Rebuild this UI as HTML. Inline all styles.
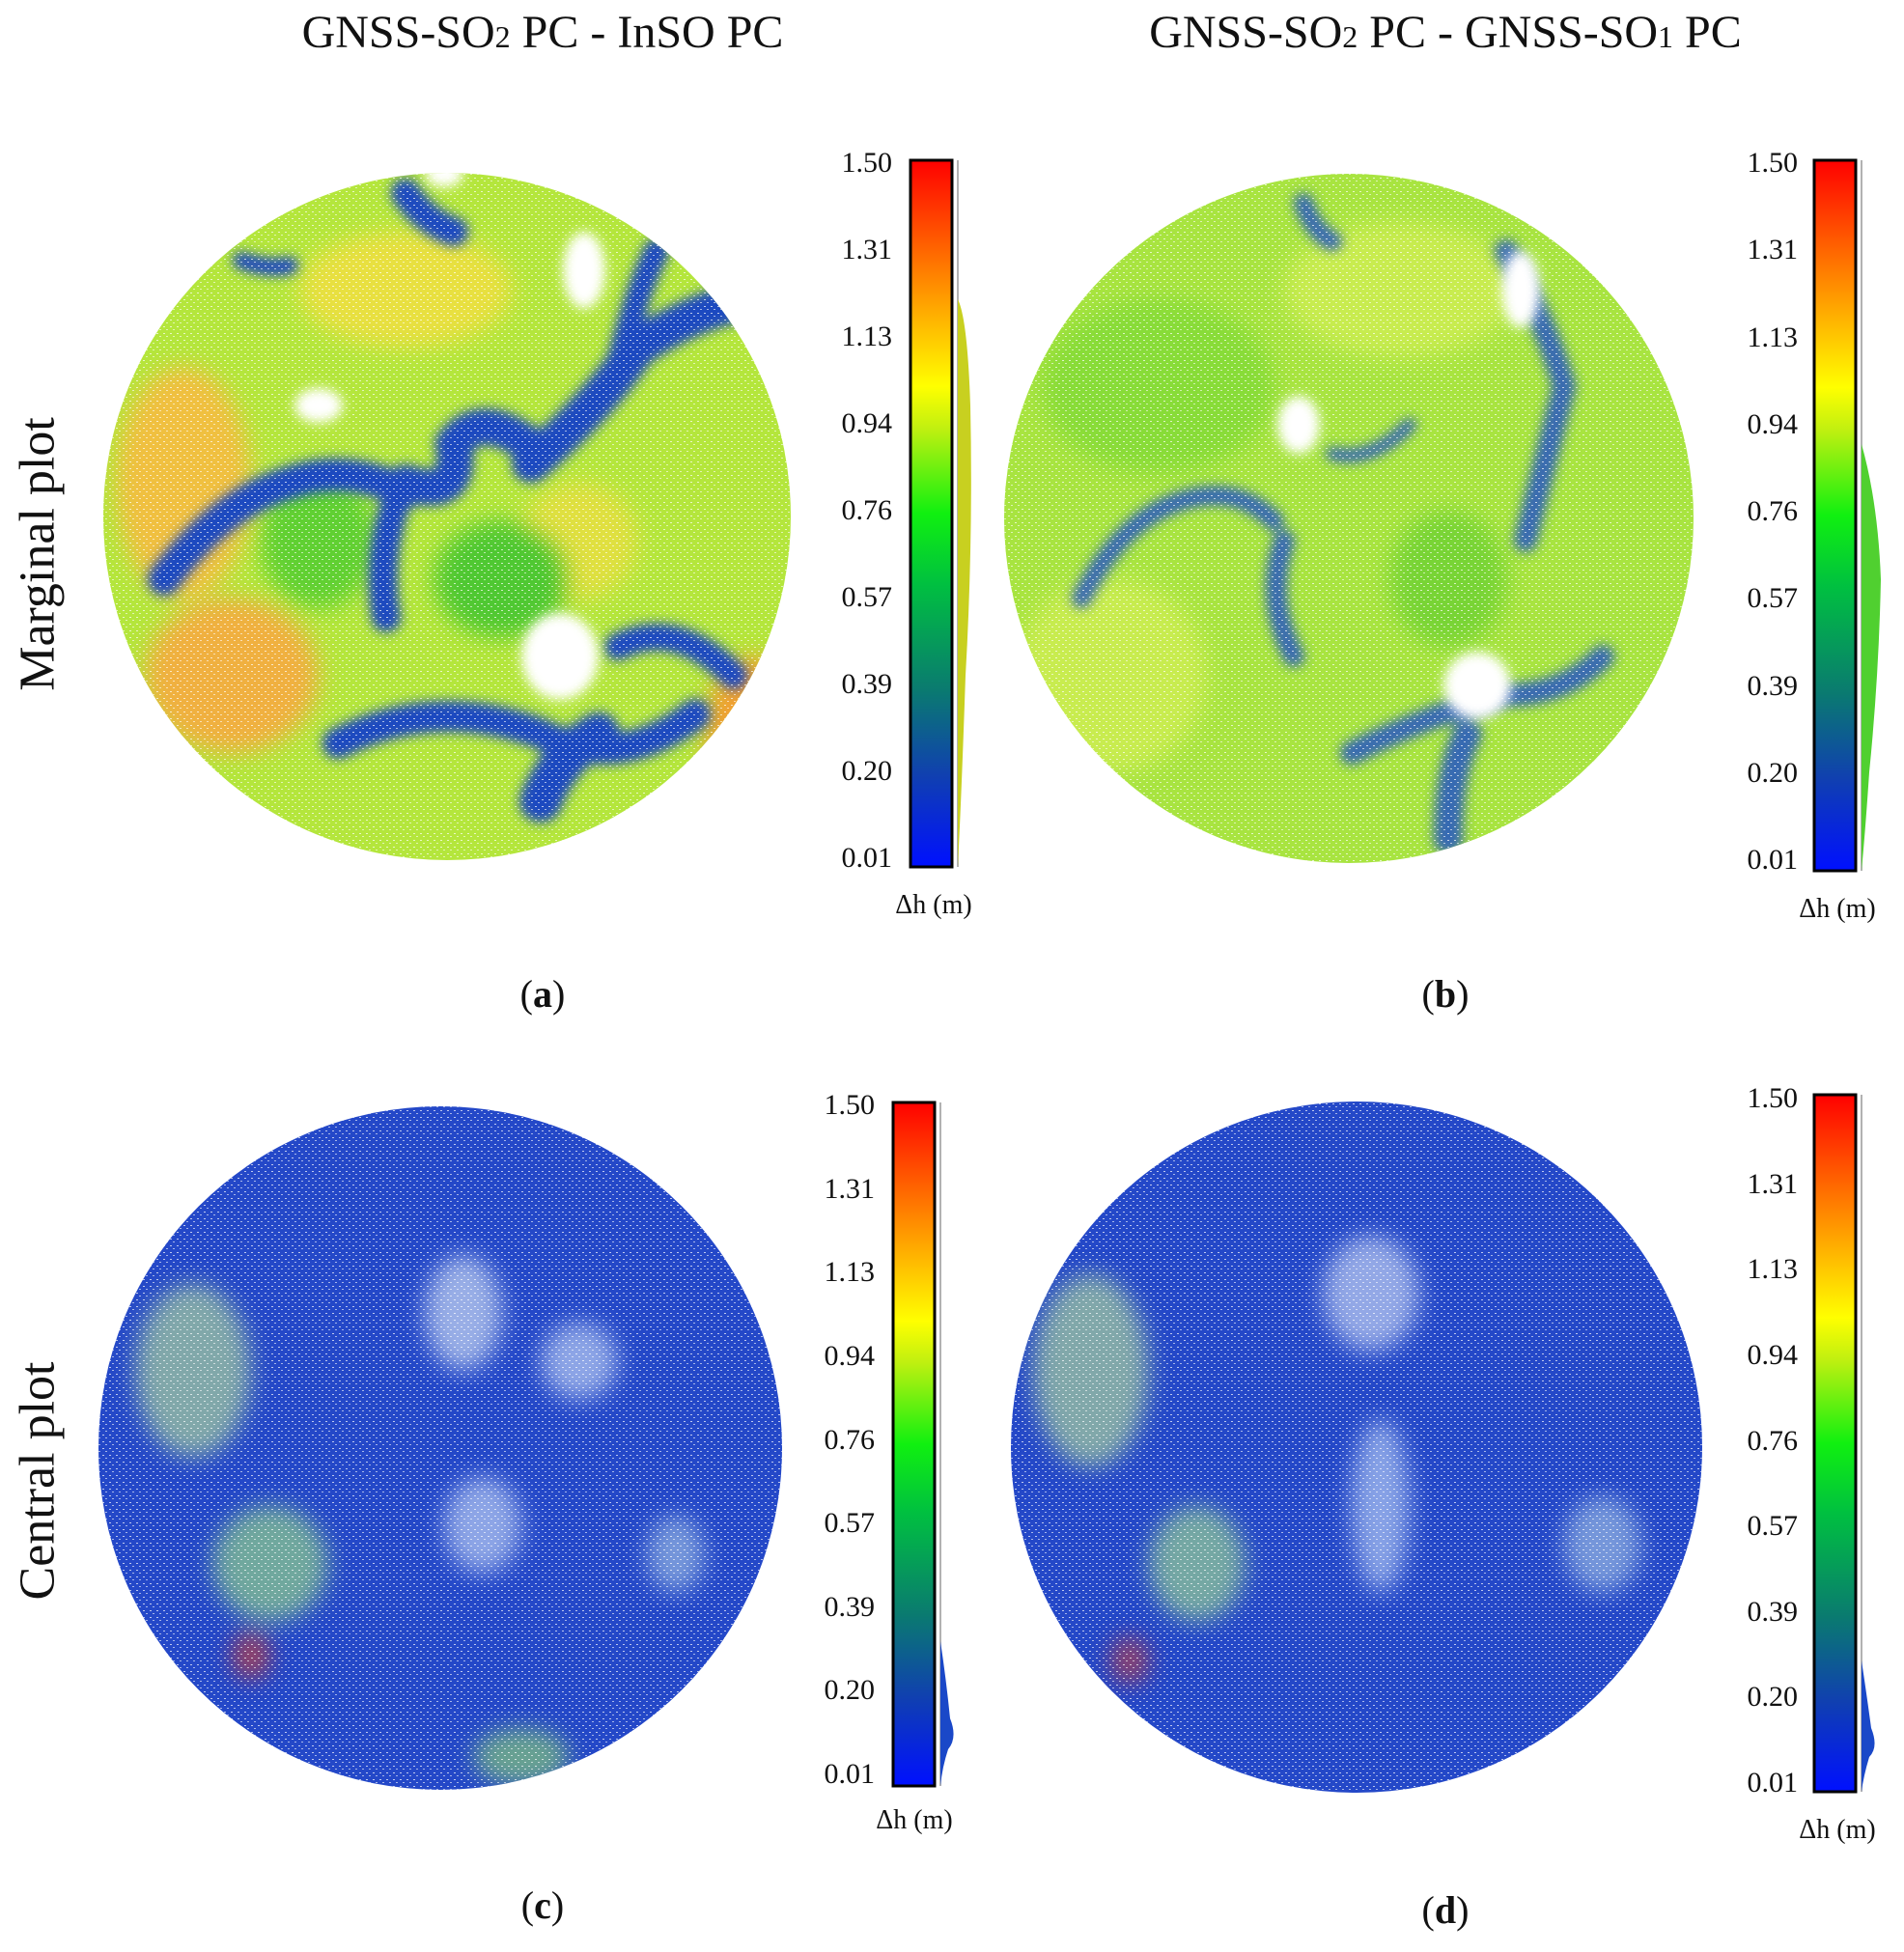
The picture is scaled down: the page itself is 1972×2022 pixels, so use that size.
<!DOCTYPE html>
<html><head><meta charset="utf-8"><style>
html,body{margin:0;padding:0;background:#fff}
body{width:1972px;height:2022px;position:relative;overflow:hidden;font-family:"Liberation Serif",serif;color:#111}
.t{position:absolute;white-space:nowrap}
</style></head><body>
<svg width="1972" height="2022" style="position:absolute;left:0;top:0">
<defs>
<linearGradient id="cb" x1="0" y1="1" x2="0" y2="0">
<stop offset="0" stop-color="#0010ff"/>
<stop offset="0.13" stop-color="#1040b0"/>
<stop offset="0.25" stop-color="#0a7a70"/>
<stop offset="0.4" stop-color="#00c040"/>
<stop offset="0.5" stop-color="#10f010"/>
<stop offset="0.62" stop-color="#c0f010"/>
<stop offset="0.68" stop-color="#ffff00"/>
<stop offset="0.8" stop-color="#ffa000"/>
<stop offset="1" stop-color="#ff0000"/>
</linearGradient>
<filter id="bl"><feGaussianBlur stdDeviation="12"/></filter>
<filter id="bl2"><feGaussianBlur stdDeviation="6"/></filter>
<clipPath id="ca"><circle cx="463" cy="535" r="356"/></clipPath>
<clipPath id="cbp"><circle cx="1397" cy="537" r="357"/></clipPath>
<clipPath id="cc"><circle cx="456" cy="1500" r="354"/></clipPath>
<clipPath id="cd"><circle cx="1405" cy="1499" r="358"/></clipPath>
<pattern id="spk" width="7" height="7" patternUnits="userSpaceOnUse"><rect x="1" y="2" width="2" height="1" fill="#fff" opacity="0.7"/><rect x="4" y="5" width="2" height="1" fill="#fff" opacity="0.6"/></pattern>
</defs>

<!-- (a) -->
<g clip-path="url(#ca)">
<rect x="100" y="170" width="730" height="730" fill="#b4e63c"/>
<g filter="url(#bl)">
<ellipse cx="190" cy="500" rx="70" ry="120" fill="#f0c040"/>
<ellipse cx="240" cy="700" rx="90" ry="80" fill="#f0b040"/>
<ellipse cx="420" cy="300" rx="110" ry="60" fill="#e8e040"/>
<ellipse cx="600" cy="560" rx="60" ry="60" fill="#e0e040"/>
<ellipse cx="780" cy="760" rx="50" ry="80" fill="#f0a030"/>
<ellipse cx="330" cy="560" rx="60" ry="70" fill="#60d030"/>
<ellipse cx="520" cy="600" rx="70" ry="60" fill="#50c830"/>
</g>
<g fill="none" stroke="#1e48c0" stroke-linecap="round" filter="url(#bl2)">
<path d="M170 600 Q230 520 300 500 Q360 480 420 510" stroke-width="34"/>
<path d="M420 500 Q480 520 470 460 Q500 420 560 470" stroke-width="38"/>
<path d="M410 520 Q390 580 400 640" stroke-width="30"/>
<path d="M550 480 Q620 420 660 360 Q720 320 780 310" stroke-width="40"/>
<path d="M640 380 Q660 300 680 260" stroke-width="26"/>
<path d="M350 770 Q450 720 560 760 Q640 800 720 740" stroke-width="32"/>
<path d="M560 830 Q580 780 620 760" stroke-width="44"/>
<path d="M640 670 Q700 640 760 700" stroke-width="28"/>
<path d="M420 200 Q440 230 470 240" stroke-width="30"/>
<path d="M250 270 Q280 280 300 275" stroke-width="18"/>
</g>
<g fill="#fff" filter="url(#bl2)">
<ellipse cx="330" cy="420" rx="25" ry="18"/><ellipse cx="605" cy="280" rx="22" ry="40"/>
<ellipse cx="580" cy="680" rx="40" ry="45"/><ellipse cx="460" cy="180" rx="20" ry="14"/>
</g>
<rect x="100" y="170" width="730" height="730" fill="url(#spk)"/>
</g>

<!-- (b) -->
<g clip-path="url(#cbp)">
<rect x="1030" y="170" width="740" height="740" fill="#a8e440"/>
<g filter="url(#bl)">
<ellipse cx="1200" cy="400" rx="120" ry="90" fill="#88dc38"/>
<ellipse cx="1450" cy="300" rx="120" ry="70" fill="#c8ec50"/>
<ellipse cx="1150" cy="700" rx="100" ry="100" fill="#c8ec50"/>
<ellipse cx="1500" cy="600" rx="60" ry="70" fill="#78d434"/>
</g>
<g fill="none" stroke="#2a5cc0" stroke-linecap="round" filter="url(#bl2)" opacity="0.9">
<path d="M1120 620 Q1160 540 1220 520 Q1280 500 1320 540" stroke-width="20"/>
<path d="M1330 560 Q1310 620 1340 680" stroke-width="22"/>
<path d="M1560 260 Q1600 330 1620 400 Q1600 480 1580 560" stroke-width="24"/>
<path d="M1400 780 Q1480 740 1560 720 Q1620 720 1660 680" stroke-width="24"/>
<path d="M1500 870 Q1500 800 1520 760" stroke-width="30"/>
<path d="M1350 210 Q1360 240 1380 250" stroke-width="20"/>
<path d="M1460 440 Q1420 480 1380 470" stroke-width="14"/>
</g>
<g fill="#fff" filter="url(#bl2)">
<ellipse cx="1345" cy="440" rx="22" ry="30"/><ellipse cx="1575" cy="300" rx="20" ry="40"/>
<ellipse cx="1530" cy="710" rx="35" ry="35"/>
</g>
<rect x="1030" y="170" width="740" height="740" fill="url(#spk)"/>
</g>

<!-- (c) -->
<g clip-path="url(#cc)">
<rect x="90" y="1140" width="730" height="730" fill="#2448c8"/>
<g filter="url(#bl)" opacity="0.75">
<ellipse cx="200" cy="1420" rx="60" ry="90" fill="#a0c8a0"/>
<ellipse cx="280" cy="1620" rx="60" ry="60" fill="#8ac890"/>
<ellipse cx="480" cy="1360" rx="40" ry="60" fill="#c0d0f0"/>
<ellipse cx="600" cy="1410" rx="40" ry="40" fill="#b0c4f0"/>
<ellipse cx="500" cy="1580" rx="40" ry="50" fill="#b0c4f0"/>
<ellipse cx="700" cy="1610" rx="30" ry="40" fill="#90b0e0"/>
<ellipse cx="540" cy="1820" rx="50" ry="30" fill="#80c080"/>
<ellipse cx="260" cy="1715" rx="20" ry="25" fill="#c04040"/>
</g>
<rect x="90" y="1140" width="730" height="730" fill="url(#spk)"/>
</g>

<!-- (d) -->
<g clip-path="url(#cd)">
<rect x="1040" y="1135" width="730" height="730" fill="#2448c8"/>
<g filter="url(#bl)" opacity="0.75">
<ellipse cx="1130" cy="1420" rx="60" ry="100" fill="#a0c8a0"/>
<ellipse cx="1240" cy="1620" rx="50" ry="60" fill="#90c898"/>
<ellipse cx="1420" cy="1340" rx="50" ry="60" fill="#b8c8f0"/>
<ellipse cx="1430" cy="1560" rx="30" ry="90" fill="#a8c0f0"/>
<ellipse cx="1660" cy="1600" rx="40" ry="50" fill="#90b0e0"/>
<ellipse cx="1170" cy="1720" rx="20" ry="25" fill="#b04050"/>
</g>
<rect x="1040" y="1135" width="730" height="730" fill="url(#spk)"/>
</g>

<!-- colorbars -->
<g stroke="#000" stroke-width="3">
<rect x="943" y="166" width="43" height="732" fill="url(#cb)"/>
<rect x="1879" y="166" width="43" height="736" fill="url(#cb)"/>
<rect x="925" y="1142" width="43" height="708" fill="url(#cb)"/>
<rect x="1879" y="1134" width="43" height="722" fill="url(#cb)"/>
</g>
<line x1="992" y1="166" x2="992" y2="898" stroke="#999" stroke-width="1.5"/>
<path d="M992 310 Q1002 330 1005 420 Q1008 560 1000 700 Q996 820 992 898 Z" fill="#c8d020"/>
<line x1="1928" y1="166" x2="1928" y2="902" stroke="#999" stroke-width="1.5"/>
<path d="M1928 460 Q1945 520 1948 600 Q1946 700 1936 800 Q1932 860 1928 902 Z" fill="#50d030"/>
<line x1="974" y1="1142" x2="974" y2="1850" stroke="#999" stroke-width="1.5"/>
<path d="M974 1700 Q980 1740 984 1780 Q992 1800 982 1812 Q976 1830 974 1850 Z" fill="#1a48c8"/>
<line x1="1928" y1="1134" x2="1928" y2="1856" stroke="#999" stroke-width="1.5"/>
<path d="M1928 1720 Q1934 1760 1938 1790 Q1946 1810 1936 1820 Q1930 1840 1928 1856 Z" fill="#1a48c8"/>
</svg>

<div class="t" style="left:562px;top:6px;transform:translateX(-50%);font-size:48px">GNSS-SO<span style="font-size:32px">2</span> PC - InSO PC</div>
<div class="t" style="left:1497px;top:6px;transform:translateX(-50%);font-size:48px">GNSS-SO<span style="font-size:32px">2</span> PC - GNSS-SO<span style="font-size:32px">1</span> PC</div>
<div class="t" style="left:39px;top:574px;transform:translate(-50%,-50%) rotate(-90deg);font-size:52px">Marginal plot</div>
<div class="t" style="left:39px;top:1534px;transform:translate(-50%,-50%) rotate(-90deg);font-size:52px">Central plot</div>
<div class="t" style="left:562px;top:1006px;transform:translateX(-50%);font-size:40px">(<b>a</b>)</div>
<div class="t" style="left:1497px;top:1006px;transform:translateX(-50%);font-size:40px">(<b>b</b>)</div>
<div class="t" style="left:562px;top:1950px;transform:translateX(-50%);font-size:40px">(<b>c</b>)</div>
<div class="t" style="left:1497px;top:1955px;transform:translateX(-50%);font-size:40px">(<b>d</b>)</div>
<div class="t" style="left:967px;top:922px;transform:translateX(-50%);font-size:28px">Δh (m)</div>
<div class="t" style="left:1903px;top:926px;transform:translateX(-50%);font-size:28px">Δh (m)</div>
<div class="t" style="left:947px;top:1870px;transform:translateX(-50%);font-size:28px">Δh (m)</div>
<div class="t" style="left:1903px;top:1880px;transform:translateX(-50%);font-size:28px">Δh (m)</div>

<div id="labs"></div>
<script>
var vals=["1.50","1.31","1.13","0.94","0.76","0.57","0.39","0.20","0.01"];
var bars=[[924,169,889],[1862,169,891],[906,1145,1838],[1862,1138,1847]];
var h="";
bars.forEach(function(b){for(var i=0;i<9;i++){var y=b[1]+(b[2]-b[1])*i/8;
h+='<div class="t" style="left:'+(b[0]-70)+'px;width:70px;text-align:right;top:'+(y-17)+'px;font-size:30px">'+vals[i]+'</div>';}});
document.getElementById("labs").innerHTML=h;
</script>
</body></html>
